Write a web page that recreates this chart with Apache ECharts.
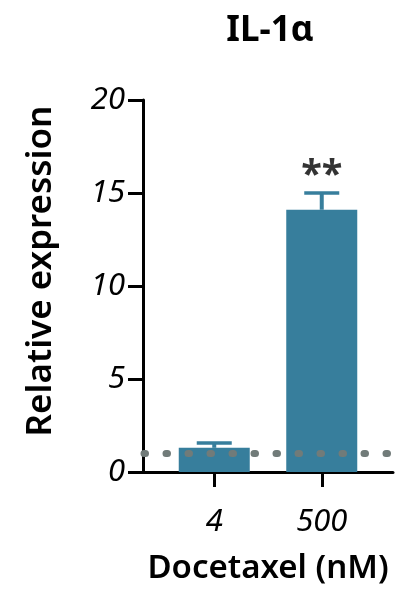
<!DOCTYPE html>
<html>
<head>
<meta charset="utf-8">
<script src="https://cdn.jsdelivr.net/npm/echarts@6/dist/echarts.min.js"></script>
<style>html,body{margin:0;padding:0;background:#fff;}#c{width:400px;height:597px;}</style>
</head>
<body>
<div id="c"></div>
<script>
// ---- data ----
var categories = ['4', '500'];
var means = [1.3, 14.1];
var errUpper = [1.56, 15.0];
var significance = ['', '**'];
var baselineValue = 1;
var yMin = 0, yMax = 20, yStep = 5;

var titleText = 'IL-1α';
var xName = 'Docetaxel (nM)';
var yName = 'Relative expression';

// ---- styles ----
var barColor = '#377e9c';
var dotColor = '#717b79';
var fontFam = '"Noto Sans", "Open Sans", sans-serif';

var chart = echarts.init(document.getElementById('c'), null, {renderer: 'canvas'});

var errData = categories.map(function (c, i) { return [i, means[i], errUpper[i]]; });
var sigData = categories.map(function (c, i) { return significance[i] ? [i, errUpper[i]] : null; }).filter(Boolean);

var option = {
  animation: false,
  backgroundColor: '#fff',
  title: {
    text: titleText,
    left: 265, top: 9, textAlign: 'center',
    textStyle: {fontFamily: fontFam, fontWeight: 'bold', fontSize: 35, color: '#000'}
  },
  grid: [
    {left: 143, right: 7, top: 100, bottom: 125},
    {left: 160.5, right: 24.5, top: 100, bottom: 125}
  ],
  xAxis: [
    {
      gridIndex: 0, type: 'value', min: 0, max: 1,
      axisLine: {show: true, lineStyle: {color: '#000', width: 3}},
      axisTick: {show: false}, axisLabel: {show: false}, splitLine: {show: false},
      name: xName, nameLocation: 'middle', nameGap: 80,
      nameTextStyle: {fontFamily: fontFam, fontWeight: 600, fontSize: 33, color: '#000'}
    },
    {
      gridIndex: 1, type: 'category', data: categories,
      axisLine: {show: false},
      axisTick: {show: true, alignWithLabel: true, length: 15, lineStyle: {color: '#000', width: 3}},
      axisLabel: {fontFamily: fontFam, fontStyle: 'italic', fontSize: 31, color: '#000', margin: 35}
    }
  ],
  yAxis: [
    {
      gridIndex: 0, type: 'value', min: yMin, max: yMax, interval: yStep,
      axisLine: {show: true, lineStyle: {color: '#000', width: 3}},
      axisTick: {show: true, length: 15, lineStyle: {color: '#000', width: 3}},
      axisLabel: {fontFamily: fontFam, fontStyle: 'italic', fontSize: 31, color: '#000', margin: 18},
      splitLine: {show: false},
      name: yName, nameLocation: 'middle', nameGap: 84, nameRotate: 90,
      nameTextStyle: {fontFamily: fontFam, fontWeight: 600, fontSize: 35, color: '#000', padding: [0, 0, 0, 30]}
    },
    {
      gridIndex: 1, type: 'value', min: yMin, max: yMax, interval: yStep, show: false
    }
  ],
  series: [
    {
      type: 'bar', xAxisIndex: 1, yAxisIndex: 1, data: means,
      barWidth: 71, itemStyle: {color: barColor}, z: 2
    },
    {
      type: 'custom', xAxisIndex: 1, yAxisIndex: 1, data: errData, z: 3,
      renderItem: function (params, api) {
        var x = api.value(0);
        var top = api.coord([x, api.value(2)]);
        var mid = api.coord([x, api.value(1)]);
        var capHalf = 17.5;
        return {
          type: 'group',
          children: [
            {type: 'line', shape: {x1: top[0], y1: top[1], x2: mid[0], y2: mid[1]},
             style: {stroke: barColor, lineWidth: 4}},
            {type: 'line', shape: {x1: top[0] - capHalf, y1: top[1], x2: top[0] + capHalf, y2: top[1]},
             style: {stroke: barColor, lineWidth: 3.5}}
          ]
        };
      }
    },
    {
      type: 'scatter', xAxisIndex: 1, yAxisIndex: 1, data: sigData,
      symbolSize: 0, z: 4,
      label: {
        show: true, position: 'top', distance: -2,
        formatter: function (p) { return significance[p.value[0]]; },
        fontFamily: fontFam, fontSize: 38, fontWeight: 'bold', color: '#000'
      }
    },
    {
      type: 'line', xAxisIndex: 0, yAxisIndex: 0,
      data: [[0, baselineValue], [1, baselineValue]],
      symbol: 'none', z: 5,
      lineStyle: {color: dotColor, width: 7, type: [1.5, 20.5], cap: 'round', dashOffset: -1}
    }
  ]
};
chart.setOption(option);
</script>
</body>
</html>
